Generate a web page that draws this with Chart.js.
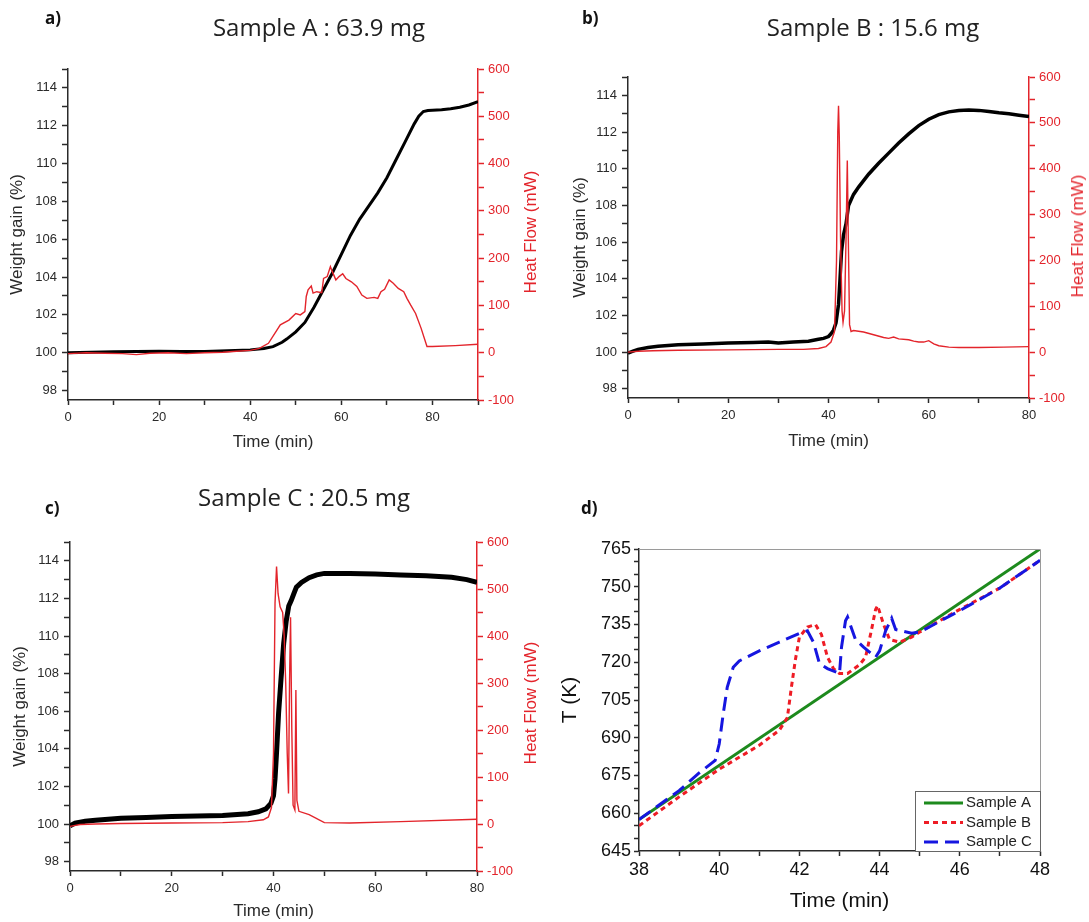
<!DOCTYPE html>
<html>
<head>
<meta charset="utf-8">
<title>Samples A, B, C</title>
<script src="https://cdn.jsdelivr.net/npm/chart.js@4.4.1/dist/chart.umd.min.js"></script>
<style>
  body { margin: 0; background: #fff; }
  #page { position: relative; width: 1089px; height: 922px; overflow: hidden; }
  #page canvas { position: absolute; }
  .tag { position: absolute; font: bold 17px "Open Sans", sans-serif; color: #111; transform: translateY(-50%); }
  .head { position: absolute; font: 24px "Open Sans", sans-serif; color: #222; white-space: nowrap; transform: translate(-50%, -50%); }
  .side { position: absolute; font: 17px "Liberation Sans", Arial, sans-serif; color: #e3242b; white-space: nowrap; transform: translate(-50%, -50%) rotate(-90deg); }
</style>
</head>
<body>
<div id="page">
  <canvas id="chartA" width="545" height="460" style="left:0;top:0"></canvas>
  <canvas id="chartB" width="544" height="460" style="left:545px;top:0"></canvas>
  <canvas id="chartC" width="545" height="462" style="left:0;top:460px"></canvas>
  <canvas id="chartD" width="544" height="462" style="left:545px;top:460px"></canvas>

  <div class="tag" style="left:45px;top:17px">a)</div>
  <div class="tag" style="left:582px;top:17px">b)</div>
  <div class="tag" style="left:45px;top:507px">c)</div>
  <div class="tag" style="left:581px;top:507px">d)</div>

  <div class="head" style="left:319px;top:26px">Sample A : 63.9 mg</div>
  <div class="head" style="left:873px;top:26px">Sample B : 15.6 mg</div>
  <div class="head" style="left:304px;top:496px">Sample C : 20.5 mg</div>

  <div class="side" style="left:531px;top:232px">Heat Flow (mW)</div>
  <div class="side" style="left:1078px;top:236px">Heat Flow (mW)</div>
  <div class="side" style="left:531px;top:703px">Heat Flow (mW)</div>
</div>
<script>
// ---- panel a : Sample A ----
var timeA = [0, 5, 10, 15, 20, 25, 30, 35, 40, 43, 45, 47, 48, 50, 52, 54, 56, 58, 60, 62, 64, 66, 68, 70, 72, 74, 76, 77, 78, 79, 80, 82, 84, 86, 88, 90];
var weightA = [100.0, 100.03, 100.05, 100.06, 100.08, 100.07, 100.06, 100.1, 100.15, 100.22, 100.32, 100.55, 100.72, 101.1, 101.6, 102.4, 103.3, 104.2, 105.2, 106.2, 107.05, 107.75, 108.45, 109.25, 110.2, 111.15, 112.1, 112.5, 112.75, 112.8, 112.82, 112.85, 112.9, 112.98, 113.1, 113.27];
var hfTimeA = [0, 4, 8, 12, 15, 18, 22, 26, 30, 34, 37, 40, 42, 44, 45.4, 46.6, 48.5, 50, 51, 52, 52.3, 52.7, 53.4, 53.8, 54.6, 55.7, 56.1, 56.9, 57.6, 58, 58.8, 59.5, 60.3, 61, 62.2, 63.4, 64.5, 65.6, 67.2, 68, 68.7, 69.5, 70.5, 71.4, 72.5, 73.7, 74.4, 75.2, 76.3, 77.5, 78.8, 80, 85, 90];
var heatA = [-2, 0, -1, -2, -4, -1, 0, -2, 0, 1, 3, 5, 9, 20, 41, 59, 69, 83, 80, 87, 119, 133, 141, 126, 129, 127, 157, 161, 182, 172, 154, 161, 167, 157, 150, 140, 122, 115, 117, 115, 129, 134, 154, 147, 136, 129, 115, 101, 83, 52, 13, 13, 15, 18];

// ---- panel b : Sample B ----
var timeB = [0, 1, 2, 4, 6, 10, 15, 20, 25, 28, 30, 33, 36, 38, 39, 40, 40.5, 41, 41.5, 42, 42.3, 42.6, 43, 43.5, 44, 45, 46, 48, 50, 52, 54, 56, 58, 60, 62, 64, 66, 68, 70, 72, 74, 76, 78, 80];
var weightB = [99.95, 100.05, 100.15, 100.25, 100.32, 100.4, 100.45, 100.5, 100.52, 100.55, 100.5, 100.55, 100.6, 100.7, 100.75, 100.85, 101.0, 101.2, 101.6, 102.6, 104.0, 105.5, 106.4, 107.0, 108.0, 108.6, 109.0, 109.7, 110.3, 110.85, 111.4, 111.9, 112.35, 112.7, 112.95, 113.1, 113.17, 113.2, 113.18, 113.12, 113.05, 113.0, 112.92, 112.85];
var hfTimeB = [0, 2, 5, 10, 20, 30, 35, 38, 39.5, 40.5, 41.2, 41.6, 41.85, 42.0, 42.15, 42.4, 42.7, 42.9, 43.2, 43.5, 43.75, 43.95, 44.2, 44.5, 45, 47, 49, 51, 52, 53, 54, 56, 57, 58, 59, 60, 61, 62, 64, 66, 70, 75, 80];
var heatB = [0, 2, 3, 4, 5, 6, 6, 8, 12, 22, 45, 200, 480, 537, 470, 250, 90, 65, 90, 250, 418, 250, 60, 45, 47, 44, 38, 32, 30, 33, 29, 27, 24, 22, 22, 25, 18, 14, 11, 10, 10, 11, 12];

// ---- panel c : Sample C ----
var timeC = [0, 1, 3, 5, 10, 15, 20, 25, 30, 35, 37, 38.5, 39.5, 40, 40.3, 40.6, 41, 41.5, 42, 42.5, 43, 43.5, 44, 44.5, 45.5, 47, 48.5, 50, 55, 60, 65, 70, 75, 78, 80];
var weightC = [99.9, 100.05, 100.15, 100.2, 100.3, 100.35, 100.4, 100.42, 100.45, 100.55, 100.65, 100.8, 101.1, 101.5, 102.4, 103.8, 105.9, 107.8, 109.6, 110.8, 111.6, 111.9, 112.25, 112.6, 112.85, 113.1, 113.25, 113.33, 113.33, 113.3, 113.25, 113.2, 113.12, 113.0, 112.85];
var hfTimeC = [0, 2, 5, 10, 20, 30, 35, 38, 39, 39.6, 40.0, 40.3, 40.6, 40.9, 41.3, 41.8, 42.1, 42.4, 42.7, 42.95, 43.15, 43.35, 43.6, 43.85, 44.2, 44.4, 44.6, 45, 47, 50, 55, 65, 80];
var heatC = [-5, -1, 0, 1, 2, 3, 5, 9, 15, 35, 150, 470, 548, 490, 462, 450, 400, 300, 150, 65, 300, 440, 200, 40, 30, 285, 50, 27, 20, 3, 2, 5, 10];

// ---- panel d : temperature ----
var seriesNames = ["Sample A", "Sample B", "Sample C"];
var tA = [38, 48];
var tempA = [657.5, 765];
var tB = [38, 39, 40, 41, 41.5, 41.7, 41.8, 41.9, 42.0, 42.2, 42.4, 42.55, 42.7, 42.85, 43.0, 43.2, 43.5, 43.65, 43.8, 43.9, 43.95, 44.1, 44.25, 44.5, 44.8, 45, 46, 47, 48];
var tempB = [655, 666.5, 677.5, 687, 693, 698, 710, 721, 730, 734, 735, 731, 722, 717.5, 715.5, 715.5, 719, 722, 733, 741, 742.5, 735, 729, 728, 730, 732, 741, 749.5, 760.5];
var tC = [38, 39, 39.5, 39.9, 40.0, 40.1, 40.2, 40.35, 40.5, 41, 41.5, 42.0, 42.2, 42.35, 42.5, 42.7, 43.0, 43.05, 43.15, 43.2, 43.4, 43.6, 43.9, 44.0, 44.15, 44.3, 44.4, 44.8, 45, 46, 47, 48];
var tempC = [657.5, 669, 676, 681, 687.5, 699.5, 710, 718, 720.5, 724.5, 728, 731.5, 732.5, 728, 719.5, 717.5, 715.5, 726, 736.5, 738, 729, 726, 722, 724.5, 732.5, 737.5, 733, 731.5, 732, 740.5, 749.5, 760.5];

// tick labels (minor ticks in between carry no label)
var weightTicks = [98, 100, 102, 104, 106, 108, 110, 112, 114];
var heatTicks = [-100, 0, 100, 200, 300, 400, 500, 600];
var timeTicks = [0, 20, 40, 60, 80];
var tempTicks = [645, 660, 675, 690, 705, 720, 735, 750, 765];
var timeTicksD = [38, 40, 42, 44, 46, 48];

var RED = "#e3242b";
var INK = "#2a2a2a";
var SANS = "'Liberation Sans', Arial, sans-serif";

function pts(xs, ys) {
  return xs.map(function (x, i) { return { x: x, y: ys[i] }; });
}

function only(list) {
  return function (v) { return list.indexOf(v) >= 0 ? String(v) : ""; };
}

function makeTga(id, p) {
  var ctx = document.getElementById(id).getContext("2d");
  return new Chart(ctx, {
    type: "line",
    data: {
      datasets: [
        { label: "Heat Flow", data: pts(p.hfTime, p.heat), yAxisID: "y1",
          borderColor: RED, borderWidth: 1.4, pointRadius: 0, tension: 0 },
        { label: "Weight gain", data: pts(p.time, p.weight), yAxisID: "y",
          borderColor: "#000", borderWidth: p.lw, pointRadius: 0, tension: 0 }
      ]
    },
    options: {
      responsive: false,
      animation: false,
      layout: { padding: { top: p.top, left: 0, right: 0, bottom: 0 } },
      plugins: { legend: { display: false }, tooltip: { enabled: false } },
      scales: {
        x: {
          type: "linear", min: 0, max: p.xMax,
          afterFit: function (s) { s.height = p.bottomH; },
          border: { color: INK, width: 1.5 },
          grid: { drawOnChartArea: false, tickLength: 5, tickColor: INK, tickWidth: 1.5 },
          ticks: { stepSize: 10, autoSkip: false, maxRotation: 0, padding: 5, color: INK,
                   font: { size: 13, family: SANS }, callback: only(timeTicks) },
          title: { display: true, text: "Time (min)", color: INK,
                   font: { size: 17, family: SANS }, padding: { top: 0, bottom: p.xPad } }
        },
        y: {
          position: "left", min: 97.5, max: 115,
          afterFit: function (s) { s.width = p.leftW; },
          border: { color: INK, width: 1.5 },
          grid: { drawOnChartArea: false, tickLength: 6, tickColor: INK, tickWidth: 1.5 },
          ticks: { stepSize: 1, includeBounds: false, autoSkip: false, padding: 5, color: INK,
                   font: { size: 13, family: SANS }, callback: only(weightTicks) },
          title: { display: true, text: "Weight gain (%)", color: INK,
                   font: { size: 17, family: SANS }, padding: { top: p.yPad, bottom: 0 } }
        },
        y1: {
          position: "right", min: -100, max: 600,
          afterFit: function (s) { s.width = p.rightW; },
          border: { color: RED, width: 1.5 },
          grid: { drawOnChartArea: false, tickLength: 6, tickColor: RED, tickWidth: 1.5 },
          ticks: { stepSize: 50, autoSkip: false, padding: 4, color: RED,
                   font: { size: 13, family: SANS }, callback: only(heatTicks) }
        }
      }
    }
  });
}

makeTga("chartA", { time: timeA, weight: weightA, hfTime: hfTimeA, heat: heatA, lw: 3,
  xMax: 90, top: 69, leftW: 68, rightW: 67, bottomH: 60, yPad: 7, xPad: 7 });
makeTga("chartB", { time: timeB, weight: weightB, hfTime: hfTimeB, heat: heatB, lw: 3.5,
  xMax: 80, top: 77, leftW: 83, rightW: 60, bottomH: 62, yPad: 25, xPad: 8 });
makeTga("chartC", { time: timeC, weight: weightC, hfTime: hfTimeC, heat: heatC, lw: 5,
  xMax: 80, top: 82, leftW: 70, rightW: 68, bottomH: 51, yPad: 10, xPad: 0 });

// frame on top/right and a boxed key in the lower right corner
var frameKey = {
  id: "frameKey",
  afterDraw: function (chart) {
    var ctx = chart.ctx, a = chart.chartArea;
    ctx.save();
    ctx.strokeStyle = "#9a9a9a";
    ctx.lineWidth = 1;
    ctx.beginPath();
    ctx.moveTo(a.left, a.top + 0.5);
    ctx.lineTo(a.right + 0.5, a.top + 0.5);
    ctx.lineTo(a.right + 0.5, a.bottom);
    ctx.stroke();

    var w = 125, h = 60, x0 = a.right - w, y0 = a.bottom - h;
    ctx.fillStyle = "#fff";
    ctx.fillRect(x0, y0, w, h);
    ctx.strokeStyle = "#666";
    ctx.strokeRect(x0 + 0.5, y0 + 0.5, w, h);
    ctx.font = "15px " + SANS;
    ctx.textBaseline = "middle";
    chart.data.datasets.forEach(function (ds, i) {
      var y = y0 + 12 + i * 19.5;
      ctx.strokeStyle = ds.borderColor;
      ctx.lineWidth = 3;
      ctx.setLineDash(ds.borderDash || []);
      ctx.beginPath();
      ctx.moveTo(x0 + 9, y);
      ctx.lineTo(x0 + 48, y);
      ctx.stroke();
      ctx.setLineDash([]);
      ctx.fillStyle = "#222";
      ctx.fillText(ds.label, x0 + 51, y);
    });
    ctx.restore();
  }
};

var ctxD = document.getElementById("chartD").getContext("2d");
new Chart(ctxD, {
  type: "line",
  data: {
    datasets: [
      { label: seriesNames[0], data: pts(tA, tempA), borderColor: "#1d8a1d", borderWidth: 3,
        pointRadius: 0, tension: 0, order: 3 },
      { label: seriesNames[1], data: pts(tB, tempB), borderColor: "#ee1c25", borderWidth: 3,
        borderDash: [5, 4], pointRadius: 0, tension: 0, order: 2 },
      { label: seriesNames[2], data: pts(tC, tempC), borderColor: "#1616e0", borderWidth: 3,
        borderDash: [14, 7], pointRadius: 0, tension: 0, order: 1 }
    ]
  },
  options: {
    responsive: false,
    animation: false,
    layout: { padding: { top: 89, left: 0, right: 49, bottom: 0 } },
    plugins: { legend: { display: false }, tooltip: { enabled: false } },
    scales: {
      x: {
        type: "linear", min: 38, max: 48,
        afterFit: function (s) { s.height = 71; },
        border: { color: INK, width: 1.5 },
        grid: { drawOnChartArea: false, tickLength: 5, tickColor: INK, tickWidth: 1.5 },
        ticks: { stepSize: 1, autoSkip: false, maxRotation: 0, padding: 3, color: "#111",
                 font: { size: 18, family: SANS }, callback: only(timeTicksD) },
        title: { display: true, text: "Time (min)", color: "#111",
                 font: { size: 21, family: SANS }, padding: { top: 0, bottom: 8 } }
      },
      y: {
        min: 645, max: 765,
        afterFit: function (s) { s.width = 94; },
        border: { color: INK, width: 1.5 },
        grid: { drawOnChartArea: false, tickLength: 5, tickColor: INK, tickWidth: 1.5 },
        ticks: { stepSize: 5, autoSkip: false, padding: 3, color: "#111",
                 font: { size: 18, family: SANS }, callback: only(tempTicks) },
        title: { display: true, text: "T (K)", color: "#111",
                 font: { size: 21, family: SANS }, padding: { top: 13, bottom: 0 } }
      }
    }
  },
  plugins: [frameKey]
});
</script>
</body>
</html>
